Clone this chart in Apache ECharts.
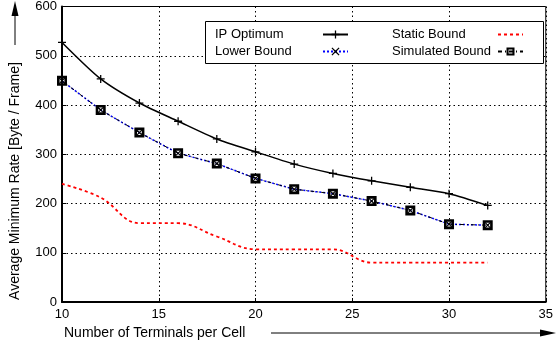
<!DOCTYPE html>
<html>
<head>
<meta charset="utf-8">
<script src="https://cdn.jsdelivr.net/npm/echarts@6/dist/echarts.min.js"></script>
<style>
  html, body { margin: 0; padding: 0; background: #fff; }
  #chart { width: 556px; height: 347px; }
</style>
</head>
<body>
<div id="chart"></div>
<script>
// terminals per cell
const terminals = [10, 12, 14, 16, 18, 20, 22, 24, 26, 28, 30, 32]
const ipOptimum = [527, 453, 404, 367, 331, 305, 280, 261, 246, 233, 220, 196]
const lowerBound = [449, 390, 344, 302, 281, 251, 229, 220, 205, 186, 158, 156]
const staticBound = [240, 212, 160, 160, 133, 107, 107, 107, 80, 80, 80, 80]
const simulatedBound = [449, 390, 344, 302, 281, 251, 229, 220, 205, 186, 158, 156]
const xTicks = [10, 15, 20, 25, 30, 35]
const yTicks = [0, 100, 200, 300, 400, 500, 600]

const font = 'Liberation Sans, Arial, sans-serif'
const pair = (ys) => terminals.map((x, i) => [x, ys[i]])

const plusPath = 'path://M4.2,0h1.6v4.2h4.2v1.6h-4.2v4.2h-1.6v-4.2h-4.2v-1.6h4.2z'
const crossPath = 'path://M1,0L5,3.8L9,0L10,1L6.2,5L10,9L9,10L5,6.2L1,10L0,9L3.8,5L0,1z'
const boxPath = 'path://M0,0h10v10h-10z M2.6,2.6v4.8h4.8v-4.8z'

function legendCol(names, left, w) {
  return {
    data: names,
    orient: 'vertical', left: left, top: 23,
    align: 'right', itemWidth: 25, itemHeight: 10, itemGap: 4,
    formatter: '{a|{name}}',
    textStyle: {
      fontSize: 13, color: '#000', fontFamily: font,
      rich: { a: { width: w, align: 'left', fontSize: 13, fontFamily: font, color: '#000' } }
    }
  }
}

const chart = echarts.init(document.getElementById('chart'))
chart.setOption({
  animation: false,
  textStyle: { fontFamily: font },
  grid: {
    left: 62, right: 1, top: 1, bottom: 45,
    show: true, borderColor: '#000', borderWidth: 1
  },
  xAxis: {
    type: 'value',
    min: xTicks[0], max: xTicks[xTicks.length - 1], interval: 5,
    axisLine: { lineStyle: { color: '#000', width: 2 } },
    axisTick: { inside: true, length: 4, lineStyle: { color: '#000' } },
    axisLabel: { color: '#000', fontSize: 13, margin: 6, fontFamily: font },
    splitLine: { show: true, lineStyle: { color: '#000', type: [1.5, 3], width: 1 } }
  },
  yAxis: {
    type: 'value',
    min: yTicks[0], max: yTicks[yTicks.length - 1], interval: 100,
    axisLine: { show: true, lineStyle: { color: '#000', width: 2 } },
    axisTick: { show: true, inside: true, length: 4, lineStyle: { color: '#000' } },
    axisLabel: { color: '#000', fontSize: 13, margin: 5, fontFamily: font },
    splitLine: { show: true, lineStyle: { color: '#000', type: [1.5, 3], width: 1 } }
  },
  legend: [
    legendCol(['IP Optimum', 'Lower Bound'], 210, 103),
    legendCol(['Static Bound', 'Simulated Bound'], 387, 101)
  ],
  graphic: [
    {
      type: 'rect', z: 3, silent: true,
      shape: { x: 205.5, y: 21.5, width: 338, height: 42 },
      style: { fill: '#fff', stroke: '#000', lineWidth: 1 }
    },
    {
      type: 'text', x: 15, y: 181, rotation: Math.PI / 2,
      style: {
        text: 'Average Minimum Rate [Byte / Frame]', font: '14px ' + font,
        fill: '#000', align: 'center', verticalAlign: 'middle'
      }
    },
    { type: 'line', shape: { x1: 15, y1: 45, x2: 15, y2: 12 }, style: { stroke: '#000', lineWidth: 1 } },
    { type: 'polygon', shape: { points: [[15, 1], [11.5, 16], [18.5, 16]] }, style: { fill: '#000' } },
    {
      type: 'text', x: 64, y: 333,
      style: {
        text: 'Number of Terminals per Cell', font: '14px ' + font,
        fill: '#000', align: 'left', verticalAlign: 'middle'
      }
    },
    { type: 'line', shape: { x1: 271, y1: 333, x2: 542, y2: 333 }, style: { stroke: '#000', lineWidth: 1 } },
    { type: 'polygon', shape: { points: [[556, 333], [540, 329.5], [540, 336.5]] }, style: { fill: '#000' } }
  ],
  series: [
    {
      name: 'IP Optimum', type: 'line', data: pair(ipOptimum),
      symbol: plusPath, symbolSize: 8, smooth: 0.25,
      lineStyle: { color: '#000', width: 1.5 },
      itemStyle: { color: '#000' }, z: 5
    },
    {
      name: 'Lower Bound', type: 'line', data: pair(lowerBound),
      symbol: crossPath, symbolSize: 7,
      lineStyle: { color: '#0000ff', width: 1.5, type: [2, 2] },
      itemStyle: { color: '#000' }, z: 4
    },
    {
      name: 'Static Bound', type: 'line', data: pair(staticBound),
      symbol: 'circle', showSymbol: false, smooth: 0.4,
      lineStyle: { color: '#ff0000', width: 1.8, type: [3, 3] },
      itemStyle: { color: 'rgba(0,0,0,0)' }, z: 3
    },
    {
      name: 'Simulated Bound', type: 'line', data: pair(simulatedBound),
      symbol: boxPath, symbolSize: 10,
      lineStyle: { color: '#000', width: 1, type: [4, 3, 1, 3] },
      itemStyle: { color: '#000' }, z: 6
    }
  ]
})
</script>
</body>
</html>
